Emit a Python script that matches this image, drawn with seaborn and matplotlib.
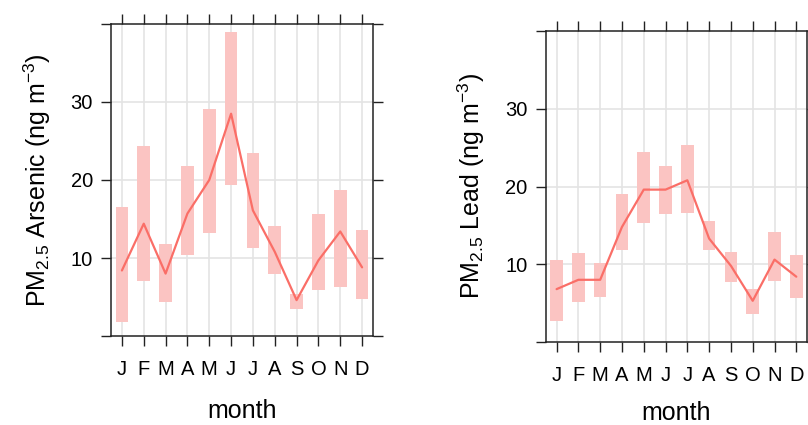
import numpy as np
import pandas as pd
import matplotlib
matplotlib.use("Agg")
import matplotlib.pyplot as plt
import seaborn as sns

months = ["J", "F", "M", "A", "M", "J", "J", "A", "S", "O", "N", "D"]
month_num = list(range(1, 13))

arsenic_mean = [8.4, 14.4, 8.0, 15.7, 20.0, 28.5, 16.1, 10.8, 4.6, 9.7, 13.4, 8.8]
arsenic_low = [1.8, 7.1, 4.3, 10.4, 13.2, 19.3, 11.3, 8.0, 3.4, 5.9, 6.3, 4.7]
arsenic_high = [16.6, 24.4, 11.8, 21.8, 29.1, 39.0, 23.4, 14.1, 5.4, 15.6, 18.7, 13.6]

lead_mean = [6.8, 8.0, 8.0, 14.8, 19.6, 19.6, 20.8, 13.3, 9.8, 5.3, 10.6, 8.4]
lead_low = [2.7, 5.2, 5.8, 11.8, 15.3, 16.4, 16.6, 11.8, 7.7, 3.6, 7.9, 5.6]
lead_high = [10.5, 11.4, 10.1, 19.0, 24.5, 22.6, 25.4, 15.6, 11.6, 6.8, 14.2, 11.2]

yticks = [0, 10, 20, 30, 40]
ytick_labels = ["", "10", "20", "30", ""]

sns.set_style("white")
plt.rcParams["font.family"] = ["Liberation Sans", "DejaVu Sans"]
plt.rcParams["mathtext.fontset"] = "custom"
plt.rcParams["mathtext.rm"] = "Liberation Sans"
plt.rcParams["mathtext.it"] = "Liberation Sans"
plt.rcParams["text.color"] = "black"
plt.rcParams["axes.labelcolor"] = "black"
plt.rcParams["xtick.color"] = "black"
plt.rcParams["ytick.color"] = "black"

LINE = "#FA6E67"
BAR = "#FBC4C2"
GRID = "#E4E4E4"

fig = plt.figure(figsize=(8.08, 4.25), dpi=100)
ax1 = fig.add_axes([111 / 808, 1 - 336 / 425, 262 / 808, 312 / 425])
ax2 = fig.add_axes([545.7 / 808, 1 - 342 / 425, 261.5 / 808, 311 / 425])

panels = [
    (ax1, arsenic_mean, arsenic_low, arsenic_high, r"PM$_{2.5}$ Arsenic (ng m$^{-3}$)", 15),
    (ax2, lead_mean, lead_low, lead_high, r"PM$_{2.5}$ Lead (ng m$^{-3}$)", 12),
]

for ax, mean, low, high, ylab, xpad in panels:
    df = pd.DataFrame({"month": month_num, "mean": mean, "low": low, "high": high})
    for m in month_num:
        ax.axvline(m, color=GRID, lw=1.2, zorder=0)
    for v in [10, 20, 30]:
        ax.axhline(v, color=GRID, lw=1.2, zorder=0)
    ax.bar(df["month"], df["high"] - df["low"], bottom=df["low"], width=0.58,
           color=BAR, edgecolor="none", zorder=1)
    sns.lineplot(data=df, x="month", y="mean", ax=ax, color=LINE, lw=1.6, zorder=2)
    ax.set_xlim(0.5, 12.5)
    ax.set_ylim(0, 40)
    ax.set_xticks(month_num)
    ax.set_xticklabels(months, fontsize=14.5)
    ax.set_yticks(yticks)
    ax.set_yticklabels(ytick_labels, fontsize=14.5)
    ax.tick_params(axis="both", direction="out", length=7, width=1, color="#222222",
                   top=True, right=True, bottom=True, left=True,
                   labeltop=False, labelright=False, pad=6)
    ax.tick_params(axis="x", pad=10)
    for s in ax.spines.values():
        s.set_color("#222222")
        s.set_linewidth(1.1)
    ax.set_xlabel("month", fontsize=18, labelpad=xpad)
    ax.set_ylabel(ylab, fontsize=18, labelpad=13)

fig.savefig("out.png", dpi=100)
